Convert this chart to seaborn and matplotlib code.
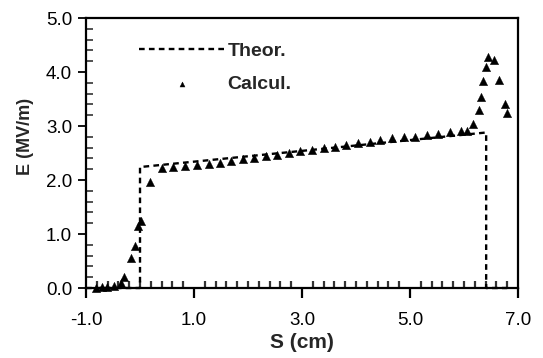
import matplotlib
matplotlib.use("Agg")
import matplotlib.pyplot as plt
from matplotlib.ticker import MultipleLocator, FormatStrFormatter
import seaborn as sns
import pandas as pd

# Theoretical curve
theo_s = [-1.0, 0.0, 0.0, 6.41, 6.41, 6.80]
theo_e = [0.0, 0.0, 2.24, 2.88, 0.0, 0.0]

# Calculated points
calc_s = [-0.81, -0.70, -0.62, -0.49, -0.36, -0.30, -0.17, -0.09, -0.03, 0.01, 0.19,
          0.41, 0.62, 0.84, 1.05, 1.27, 1.48, 1.69, 1.90, 2.11, 2.33, 2.54, 2.76,
          2.97, 3.18, 3.40, 3.61, 3.81, 4.03, 4.25, 4.45, 4.67, 4.88, 5.09, 5.31,
          5.52, 5.74, 5.94, 6.05, 6.16, 6.27, 6.31, 6.36, 6.41, 6.44, 6.56, 6.64,
          6.75, 6.79]
calc_e = [0.00, 0.01, 0.02, 0.04, 0.10, 0.20, 0.55, 0.78, 1.15, 1.24, 1.96,
          2.22, 2.24, 2.26, 2.28, 2.30, 2.32, 2.35, 2.38, 2.41, 2.44, 2.47, 2.50,
          2.53, 2.56, 2.59, 2.62, 2.65, 2.68, 2.71, 2.74, 2.77, 2.79, 2.80, 2.83,
          2.86, 2.88, 2.90, 2.91, 3.04, 3.30, 3.53, 3.84, 4.10, 4.27, 4.22, 3.86,
          3.40, 3.25]

x_ticks = [-1.0, 1.0, 3.0, 5.0, 7.0]
x_label = "S (cm)"
y_label = "E (MV/m)"
labels = ["Theor.", "Calcul."]

sns.set_style("ticks")
plt.rcParams["font.family"] = ["Liberation Sans", "DejaVu Sans"]
plt.rcParams["axes.unicode_minus"] = False

fig = plt.figure(figsize=(5.43, 3.58), dpi=100)
ax = fig.add_axes([0.1584, 0.1955, 0.7956, 0.7542])

theo_df = pd.DataFrame({"S": theo_s, "E": theo_e})
calc_df = pd.DataFrame({"S": calc_s, "E": calc_e})

ax.plot(theo_df["S"], theo_df["E"], color="black", lw=1.7,
        dashes=(2.4, 1.8), label=labels[0], clip_on=False, zorder=3)
sns.scatterplot(data=calc_df, x="S", y="E", ax=ax, marker="^", s=36,
                color="black", edgecolor="black", linewidth=0.3,
                label=labels[1], clip_on=False, zorder=4)

ax.set_xlim(-1.0, 7.0)
ax.set_ylim(0.0, 5.0)
ax.set_xticks(x_ticks)
ax.xaxis.set_minor_locator(MultipleLocator(0.2))
ax.yaxis.set_major_locator(MultipleLocator(1.0))
ax.yaxis.set_minor_locator(MultipleLocator(0.2))
ax.xaxis.set_major_formatter(FormatStrFormatter("%.1f"))
ax.yaxis.set_major_formatter(FormatStrFormatter("%.1f"))

ax.tick_params(axis="both", which="both", bottom=True, left=True,
               top=False, right=False)
ax.tick_params(axis="x", which="major", direction="out", length=7, width=1.6,
               labelsize=13.5, color="black", labelcolor="black", pad=10)
ax.tick_params(axis="y", which="major", direction="out", length=6, width=1.3,
               labelsize=13.5, color="black", labelcolor="black", pad=4)
ax.tick_params(axis="x", which="minor", direction="in", length=5, width=1.6,
               color="#333333")
ax.tick_params(axis="y", which="minor", direction="in", length=5, width=1.2,
               color="#333333")

for sp in ax.spines.values():
    sp.set_visible(True)
    sp.set_linewidth(1.6)
    sp.set_color("black")

ax.set_xlabel(x_label, fontsize=15, fontweight="bold", labelpad=0)
ax.set_ylabel(y_label, fontsize=13, fontweight="bold")
ax.yaxis.set_label_coords(-0.141, 0.56)
ax.xaxis.set_label_coords(0.50, -0.20)
ax.xaxis.label.set_va("center")
ax.yaxis.label.set_va("center")

leg = ax.legend(loc="upper left", bbox_to_anchor=(0.082, 0.975), frameon=False,
                handlelength=4.4, handletextpad=0.15, labelspacing=0.8,
                markerscale=0.6, prop={"weight": "bold", "size": 14})

fig.savefig("out.png", dpi=100)
